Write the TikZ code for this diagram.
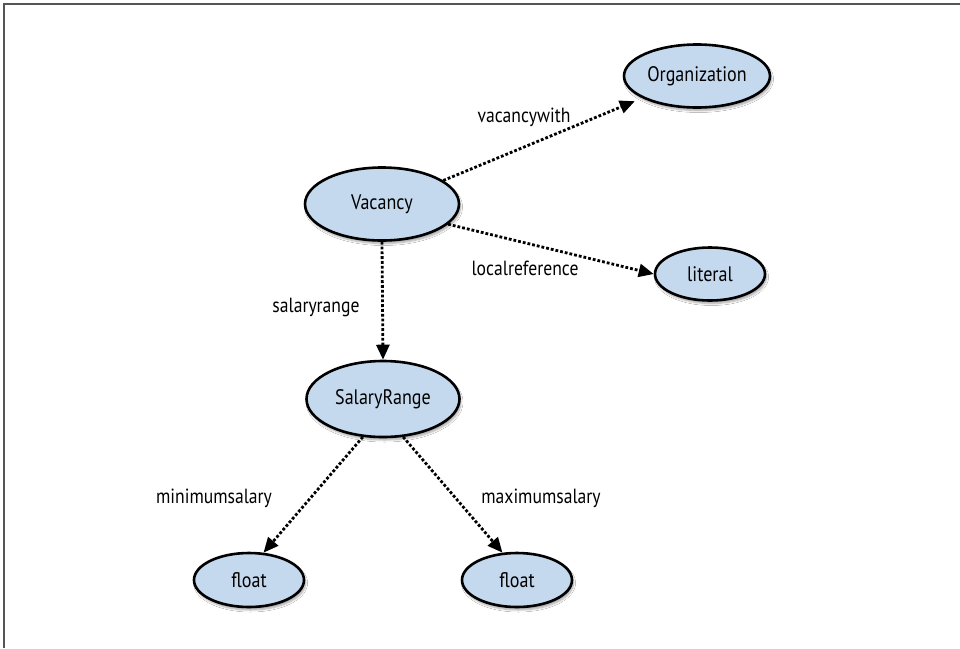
\documentclass[tikz,border=0pt]{standalone}
\usepackage{fontspec}
\setmainfont[FakeStretch=0.86]{PT Sans}
\usetikzlibrary{arrows.meta,shapes.geometric,shadows.blur}
\definecolor{nodefill}{RGB}{197,217,238}
\definecolor{framegray}{RGB}{85,85,85}
\tikzset{
  concept/.style={ellipse, draw=black, line width=2.6pt, fill=nodefill, inner sep=0pt,
    font=\fontsize{21}{24}\selectfont,
    blur shadow={shadow xshift=1.5pt, shadow yshift=-3pt, shadow blur steps=6, shadow opacity=35}},
  relation/.style={line width=2.8pt, dash pattern=on 2.8pt off 2pt,
    -{Triangle[width=13pt,length=15pt]}},
  rellabel/.style={font=\fontsize{20.5}{23}\selectfont, inner sep=0pt},
}
\begin{document}
\begin{tikzpicture}[x=1pt,y=-1pt]
  \useasboundingbox (0,0) rectangle (960,648);
  \fill[white] (0,0) rectangle (960,648);
  % open frame: top and left edges only
  \draw[framegray, line width=1.5pt] (4,648) -- (4,4) -- (960,4);

  \node[concept, minimum width=146pt, minimum height=63pt] (org) at (697,76) {Organization};
  \node[concept, minimum width=154pt, minimum height=73pt] (vac) at (382,204) {Vacancy};
  \node[concept, minimum width=110pt, minimum height=53pt] (lit) at (710,274) {literal};
  \node[concept, minimum width=153pt, minimum height=76pt] (sal) at (383,399) {SalaryRange};
  \node[concept, minimum width=110pt, minimum height=54pt] (fmin) at (249,580) {float};
  \node[concept, minimum width=110pt, minimum height=54pt] (fmax) at (517,580) {float};

  \draw[relation, shorten >=8pt] (vac.21) -- (org.202);
  \draw[relation] (vac.-17) -- (lit.west);
  \draw[relation] (vac.south) -- (sal.north);
  \draw[relation] (sal.-118) -- (fmin.62);
  \draw[relation] (sal.-62) -- (fmax.118);

  \node[rellabel] (l1) at (524,117) {vacancywith};
  \node[rellabel] (l2) at (525,268) {localreference};
  \node[rellabel] (l3) at (316,307) {salaryrange};
  \node[rellabel] (l4) at (214,498) {minimumsalary};
  \node[rellabel] (l5) at (541,498) {maximumsalary};
\end{tikzpicture}
\end{document}
